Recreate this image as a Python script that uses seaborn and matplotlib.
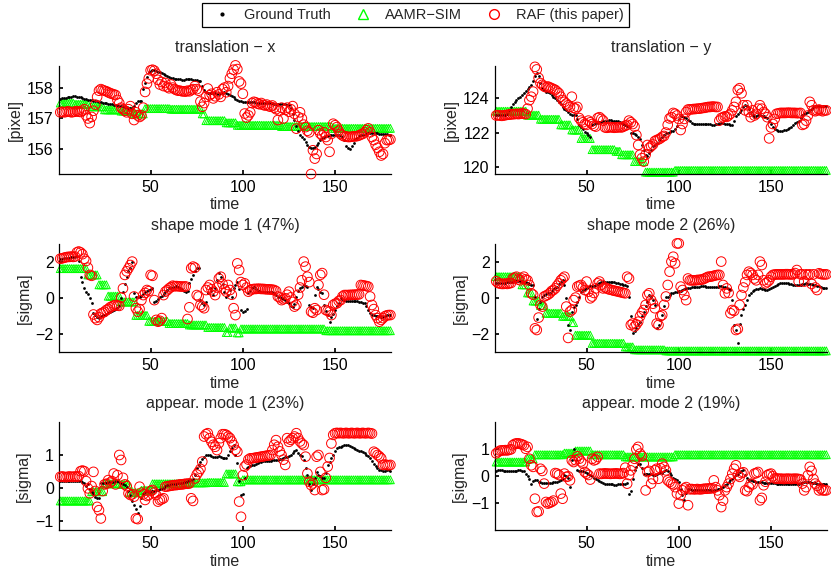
import numpy as np
import matplotlib
matplotlib.use("Agg")
import matplotlib.pyplot as plt
import seaborn as sns
from matplotlib.lines import Line2D

# ---------------- translation - x ----------------
gt_tx = [157.64, 157.65, 157.66, 157.67, 157.68,
         157.70, 157.71, 157.72, 157.72, 157.71, 157.70, 157.68,
         157.66, 157.64, 157.62, 157.61, 157.60, 157.59,
         157.58, 157.56, 157.55, 157.54,
         157.52, 157.51, 157.50, 157.49, 157.48, 157.47, 157.46, 157.45,
         157.44, 157.43, 157.42, 157.41, 157.40, 157.38, 157.36, 157.35, 157.34, 157.33,
         157.40, 157.50, 157.55, 157.56, 157.55,
         157.95, 158.15, 158.35, 158.50, 158.55, 158.57, 158.56,
         158.54, 158.52, 158.50, 158.47, 158.45, 158.42,
         158.38, 158.35, 158.32, 158.30, 158.28,
         158.28, 158.27, 158.27, 158.26, 158.26, 158.27, 158.28, 158.28, 158.27, 158.26, 158.25, 158.24, 158.23,
         158.20, 158.05, 157.92, 157.85,
         157.84, 157.83, 157.82, 157.82, 157.81, 157.80, 157.80, 157.82, 157.84, 157.86,
         157.83, 157.80, 157.76, 157.72, 157.68, 157.64, 157.60, 157.57, 157.55, 157.54,
         157.54, 157.53, 157.53, 157.52, 157.52, 157.52, 157.51, 157.51, 157.51, 157.50, 157.50, 157.50, 157.50,
         157.49, 157.49, 157.49, 157.48, 157.48, 157.48, 157.47, 157.47, 157.46, 157.46, 157.45, 157.44,
         157.35, 157.15, 156.95, 156.75, 156.60, 156.48,
         156.40, 156.35, 156.24, 156.15, 156.06, 156.04, 156.03,
         156.08, 156.15, 156.22, 156.30, 156.36, 156.40, 156.42,
         156.44, 156.46, 156.48, 156.48, 156.47, 156.46, 156.45, 156.44, 156.40, 156.30,
         156.12, 156.04, 156.02, 156.10,
         156.22, 156.32, 156.38, 156.42, 156.45,
         156.48, 156.50, 156.51, 156.52, 156.52, 156.53, 156.53, 156.52, 156.52, 156.51, 156.50, 156.50,
         156.49, 156.49, 156.48, 156.48]
aamr_tx = ([157.50] * 8 + [157.46] * 8 + [157.38] * 8 + [157.28] * 9 + [157.24] * 7 + [157.15] * 6
           + [157.32] * 14 + [157.30] * 17 + [157.15] * 2 + [156.93] * 11 + [156.86] * 6
           + [156.78] * 24 + [156.74] * 28 + [156.68] * 32)
raf_tx = [157.20, 157.22, 157.20, 157.21, 157.23, 157.22, 157.20, 157.21, 157.22, 157.24, 157.22, 157.21, 157.25,
          157.30, 157.10, 157.00, 156.85, 157.05, 157.25, 157.45, 157.70, 157.90, 157.95,
          157.92, 157.90, 157.88, 157.85, 157.82, 157.80, 157.78, 157.76, 157.60,
          157.50, 157.35, 157.30, 157.25, 157.20, 157.30, 157.40, 157.15, 156.95, 157.20, 157.10, 157.05, 157.10, 157.35,
          157.86, 158.13, 158.30, 158.56, 158.58, 158.55, 158.45,
          158.25, 158.10, 158.18, 158.05, 158.15, 158.02, 157.98, 158.10, 158.00,
          157.95, 157.92, 157.90, 157.90, 157.88, 157.88, 157.87, 157.90, 157.88, 157.92, 157.95, 158.05, 157.95, 157.90,
          157.55, 157.38, 157.50,
          157.70, 157.97, 157.75, 157.80, 157.65, 157.72,
          157.85, 157.78, 157.70, 157.95, 158.00, 157.85, 158.05,
          158.30, 158.45, 158.58, 158.72, 158.60, 158.20, 158.13,
          157.80, 157.16, 157.03, 157.10, 157.20,
          157.50, 157.54, 157.52, 157.48, 157.46, 157.50, 157.44, 157.42, 157.45, 157.40, 157.38, 157.42, 157.35,
          157.30, 156.95, 157.25, 157.35, 157.00, 157.28, 157.35, 157.22, 157.30,
          157.40, 157.15, 156.67, 157.05, 157.20, 157.00, 156.80, 156.72, 156.60, 156.55,
          155.20, 155.97, 155.70, 155.85,
          156.62, 156.51, 156.45, 156.55, 156.40, 156.30, 155.92, 156.50,
          156.83, 156.78, 156.72, 156.60, 156.50,
          156.45, 156.42, 156.42, 156.40, 156.40, 156.41, 156.42, 156.42, 156.43, 156.45, 156.48, 156.50, 156.55,
          156.62, 156.68, 156.55, 156.40,
          156.30, 156.15, 156.05, 155.92, 155.80, 155.85, 156.20, 156.30, 156.30, 156.32]

# ---------------- translation - y ----------------
gt_ty = [123.00, 123.00, 123.02, 123.02, 123.03, 123.05,
         123.10, 123.30, 123.50, 123.65, 123.80, 123.90, 124.00, 124.10, 124.20, 124.30, 124.45, 124.55, 124.65,
         124.80, 125.00, 125.30, 125.50, 125.30, 124.90,
         124.60, 124.50, 124.40, 124.35, 124.30,
         124.20, 124.10, 124.00, 123.90, 123.80, 123.65, 123.50, 123.40, 123.30, 123.20, 123.10,
         123.05, 123.00, 123.00, 122.80,
         122.45, 122.30, 122.20, 122.05, 121.95, 121.85, 121.75,
         122.45, 122.50, 122.55, 122.55, 122.60, 122.60, 122.65,
         122.70, 122.70, 122.72, 122.72, 122.70, 122.70, 122.68, 122.66, 122.62, 122.58, 122.52,
         122.45, 122.40, 122.30,
         122.00, 121.95, 121.90, 121.85, 121.75, 121.60,
         121.27, 121.00, 120.70, 120.65, 120.80,
         121.00, 121.20, 121.27, 121.40, 121.56, 121.65, 121.75, 121.85, 121.95, 122.00, 122.05, 122.08, 122.10, 122.20,
         122.40, 122.80, 122.95, 122.95, 122.90, 122.85, 122.75, 122.65,
         122.55, 122.52, 122.50, 122.48, 122.48, 122.50, 122.50, 122.52, 122.52, 122.50, 122.48, 122.47, 122.47,
         122.48, 122.50, 122.52, 122.55, 122.55, 122.53, 122.50, 122.48, 122.45,
         122.45, 122.70, 122.95, 123.10, 123.20, 123.35, 123.50, 123.60, 123.55, 123.40, 123.20, 123.05,
         122.90, 122.95, 123.00, 123.00, 122.98, 122.95, 122.90, 122.85,
         122.65, 122.50, 122.35, 122.20,
         122.15, 122.12, 122.12, 122.12, 122.14, 122.16, 122.20,
         122.28, 122.35, 122.45, 122.55, 122.62, 122.70, 122.85,
         123.00, 123.10, 123.15, 123.20, 123.30, 123.40,
         123.50, 123.55, 123.58, 123.58, 123.56, 123.55, 123.55, 123.54]
aamr_ty = ([123.25] * 17 + [123.02] * 7 + [122.78] * 11 + [122.45] * 6 + [122.15] * 5 + [121.65] * 6
           + [121.00] * 13 + [120.90] * 3 + [120.70] * 7 + [120.30] * 6 + [119.68] * 16 + [119.78] * 83)
raf_ty = [123.00, 123.02, 123.00, 122.98, 123.00, 123.02, 123.04, 123.05, 123.06, 123.08, 123.08, 123.10,
          123.08, 123.10, 123.12, 123.10, 123.08,
          123.40, 123.90, 124.10, 124.40,
          125.85, 125.70, 125.20,
          124.90, 124.80, 124.70, 124.65,
          124.70, 124.65, 124.60, 124.55, 124.50, 124.40,
          124.30, 124.10, 123.90,
          123.80, 123.70, 123.60, 123.50, 124.10, 123.45, 123.40, 123.50,
          122.85, 122.70, 122.60, 122.50, 122.45,
          122.70, 122.60, 122.50, 122.40, 122.35,
          122.85, 122.90, 122.80, 122.70,
          122.30, 122.28, 122.30, 122.32, 122.30, 122.28, 122.30, 122.30, 122.32, 122.30, 122.35, 122.40, 122.45,
          122.70, 122.60, 122.50, 122.35, 121.85,
          121.27, 120.70, 120.50, 120.30, 120.70,
          121.27, 121.10, 121.20, 121.30, 121.50, 121.56, 121.60, 121.66, 121.75, 121.80, 122.00,
          122.45, 122.83, 122.90, 123.15, 123.10, 123.00, 122.80,
          122.15, 122.50, 122.80, 123.20,
          123.35, 123.36, 123.36, 123.38, 123.38, 123.40, 123.40, 123.42, 123.44, 123.45, 123.48, 123.50,
          123.50, 123.52, 123.52, 123.50, 123.50,
          122.70, 122.85, 122.90, 122.95, 122.92, 123.00, 123.10, 123.30, 123.50, 123.80,
          124.50, 124.60, 124.30, 123.60,
          123.30, 123.60, 123.20, 122.90, 123.30, 123.00, 123.10, 123.40,
          123.60, 123.40, 123.20, 123.10, 122.90,
          121.66, 122.30, 122.50, 122.80,
          123.10, 123.12, 123.15, 123.15, 123.15, 123.15, 123.16, 123.16, 123.15, 123.15, 123.15, 123.14, 123.14, 123.15,
          122.45, 122.50, 122.70, 123.00, 123.80, 123.60,
          123.30, 123.25, 123.30, 123.35, 123.30, 123.25, 123.30, 123.30]

# ---------------- shape mode 1 ----------------
gt_s1 = [2.20, 2.20, 2.22, 2.22, 2.24, 2.25, 2.28, 2.30, 2.32, 2.35, 2.10,
         1.20, 0.90, 0.55, 0.35, 0.25, 0.00, -0.28,
         -0.80, -0.95, -1.05, -1.10,
         -1.00, -0.95, -0.90, -0.85, -0.80, -0.75, -0.70, -0.65, -0.60, -0.55, -0.45,
         0.00, 0.37, 0.80, 1.20, 1.50, 1.67, 2.00,
         0.30, 0.10, 0.05, 0.10, 0.15, 0.25,
         0.35, 0.40, 0.45, 0.50, 0.55,
         -0.20, -0.15, -0.05, 0.05, 0.15, 0.25, 0.35, 0.45, 0.55, 0.60, 0.65,
         0.65, 0.66, 0.65, 0.60, 0.50, 0.40, 0.37, 0.40,
         0.83, 1.05, 1.30, 1.50, 1.67, 1.70,
         -0.10, -0.28, -0.35, -0.20,
         0.30, 0.60, 0.40, 0.20, 0.60, 1.00, 1.39, 1.20, 0.80, 0.37, 0.10, 0.20,
         0.46, 0.10, 0.55, 0.74, 0.90, 0.50, -0.65, -0.74,
         -0.72, -0.60, 0.28, 0.40, 0.55, 0.65, 0.50,
         0.40, 0.38, 0.37, 0.37, 0.37, 0.37, 0.36, 0.35, 0.33, 0.30, 0.20, 0.10,
         0.05, 0.00, -0.05, -0.10, -0.20, -0.28, -0.40, -0.50, -0.30, 0.10, 0.40, 0.60,
         0.65, 0.74, 0.70, 0.65, -0.37, -0.50, -0.55, 0.20, 0.65,
         0.50, 0.37, 0.30, -0.37, -0.70, -0.93, -1.30, -1.05, -0.85, -0.65,
         -0.45, -0.28, 0.00, -0.05, -0.10, -0.15, -0.15, -0.15, -0.15, -0.15, -0.15, -0.15, -0.18, -0.20, -0.25,
         -0.28, -0.45, -0.65, -0.83, -0.90, -0.95, -0.98, -1.00, -1.00, -1.02, -1.05, -1.00, -0.95, -0.93, -0.92]
aamr_s1 = ([1.65] * 15 + [1.30] * 6 + [0.75] * 5 + [0.12] * 7 + [-0.20] * 8 + [-0.95] * 7 + [-1.28] * 11
           + [-1.40] * 11 + [-1.48] * 10 + [-1.62] * 10 + [-1.90] * 2 + [-1.65] * 4 + [-1.92] * 2
           + [-1.70] * 46 + [-1.80] * 36)
raf_s1 = [2.20, 2.22, 2.25, 2.28, 2.30, 2.30, 2.32, 2.30, 2.32,
          2.55, 2.60, 2.55, 2.45,
          2.20, 2.07, 1.70, 1.30, 1.25,
          -0.90, -1.10, -1.20, -1.05,
          -0.85, -0.80, -0.75, -0.65, -0.60, -0.50, -0.45, -0.40, -0.37,
          -0.40, -0.42, 0.04, 0.55, 1.30, 1.50, 1.67, 1.85, 2.04,
          0.10, -0.55, -0.74, -0.60,
          -0.10, 0.18, 0.30, 0.46, 0.40,
          1.30, 1.25,
          -0.10, -1.20, -1.30, -1.25, -1.10,
          0.18, 0.37, 0.45, 0.55, 0.62, 0.70,
          0.67, 0.68, 0.67, 0.66, 0.65, 0.65, 0.66,
          -1.15,
          -0.50, 1.67, 1.76, 1.70, 0.18, 0.10,
          -0.37, -0.46, -0.55, 0.46,
          0.60, 0.74, 0.50, 0.37, 0.18, 0.60, 1.10, 1.20, 0.80, 0.50, 0.37, 0.74, 0.46, 0.20, -0.55, -0.93,
          1.94, 1.57, 0.90, 0.74, 0.83, 0.60, 0.37, 0.45,
          0.50, 0.52, 0.52, 0.53, 0.53, 0.52, 0.52, 0.51, 0.50, 0.50, 0.49, 0.48, 0.46, 0.40,
          0.10, 0.05, -0.10, -0.05, 0.00, 0.20, 0.37, 0.05, -0.20, -0.46, -0.37, 0.20, 0.60, 1.00, 2.04, 1.76,
          1.20, 0.90, -0.74, -0.80, -0.55, -0.65, 0.74, 1.30, 1.40, 0.20, -0.65, -0.70, -0.74, -0.93,
          -0.37, -0.30, -0.28, -0.15, -0.10, 0.10,
          0.18, 0.18, 0.18, 0.19, 0.19, 0.20, 0.20, 0.21, 0.22,
          0.74, 0.72, 0.70, 0.68, 0.65, 0.10, -0.37, -0.60, -0.93, -1.10, -1.30, -1.20, -1.10, -1.00,
          -0.95, -0.93, -0.93]

# ---------------- shape mode 2 ----------------
gt_s2 = [0.85, 0.85, 0.86, 0.86, 0.87, 0.87, 0.88, 0.88, 0.90, 0.92, 0.94, 0.95, 0.96, 0.96, 0.95, 0.93,
         0.90, 0.85, 0.80, 0.76, 0.74,
         0.10, -1.15, -0.60,
         -0.18, 0.05, 0.18, 0.25, 0.28, 0.32,
         0.40, 0.50, 0.58, 0.65, 0.78, 0.90, 1.00, 0.74,
         0.00, -1.48, -1.76, -0.74, -0.50,
         -0.37, -0.20, 0.10, 0.37, 0.45, 0.52, 0.58, 0.65,
         0.66, 0.68, 0.70, 0.74, 0.78, 0.83, 0.88, 0.93, 0.93, 0.93, 0.93, 0.92, 0.90, 0.88, 0.85, 0.83,
         0.80, 0.78, 0.74, 0.72, 0.70,
         0.10, -1.00, -1.94, -1.80, -1.67, -1.45, -1.30, -1.00,
         -0.74, -0.45, -0.18, 0.18, 0.10, -0.10, -0.37,
         -1.63, -1.48, -1.20, -0.93, -0.40, 0.10,
         0.10, 0.20, 0.28, 0.32, 0.35, 0.37, 0.40, 0.42, 0.46, 0.50, 0.55,
         0.58, 0.60, 0.62, 0.63, 0.64, 0.65, 0.65, 0.66, 0.66, 0.66, 0.65, 0.65, 0.64, 0.64, 0.64, 0.65,
         0.65, 0.66, 0.66, 0.65, 0.64, 0.60, 0.50,
         0.46, -0.10, -1.48, -1.76, -2.50, -1.40, -0.93, -0.60, -0.37, -0.10,
         0.18, 0.28, 0.38, 0.46, 0.50, 0.53, 0.55, 0.54, 0.50, 0.46, 0.46, 0.50, 0.58,
         0.65, 0.70, 0.74, 0.78, 0.83, 0.84, 0.84, 0.84, 0.83, 0.82, 0.80, 0.76, 0.74, 0.74, 0.75,
         0.76, 0.78, 0.80, 0.83, 0.82, 0.80, 0.78, 0.76, 0.74, 0.70, 0.66, 0.65, 0.60, 0.57, 0.55]
aamr_s2 = ([1.20] * 14 + [0.75] * 3 + [0.30] * 3 + [-0.15] * 4 + [-0.40] * 3 + [-0.83] * 9 + [-1.00] * 5
           + [-1.35] * 2 + [-2.05] * 9 + [-2.50] * 18 + [-2.70] * 5 + [-2.86] * 17 + [-2.92] * 88)
raf_s2 = [0.95, 0.85, 0.82, 0.80, 0.80, 0.82, 0.80, 0.83, 0.85,
          1.10, 1.15, 1.20, 1.05, 1.00, 1.10, 1.20, 1.05,
          1.00, 0.74, 0.28, 0.20,
          -1.67, -1.76, -1.07,
          -0.37, -0.46, 0.10, 0.15, 0.20, 0.28,
          0.40, 0.46, 0.55, 0.70, 0.83, 1.00, 1.10, 1.20,
          -0.46, -2.20, -0.74, -0.65, -0.10, 0.04,
          0.65, 0.70, 0.74, 0.60, 0.46, 0.93,
          0.37, 0.00, 0.10, 0.30, 0.55, 0.83, 0.93, 0.75,
          0.55, 0.60, 0.55, 0.50, 0.48, 0.45, 0.42, 0.40, 0.38, 0.35, 0.33, 0.30, 0.28,
          1.20, 1.10,
          -1.48, -1.40, -1.57, -1.45,
          -1.30, -1.00, -0.80, -0.65, -0.37, 0.18, 0.28,
          -0.10, -0.30, -0.55, -1.40, -1.48, -1.00, -0.93,
          -0.37, 0.10, 0.74, 1.48, 2.04, 2.31, 1.94, 3.05, 3.05,
          0.65, 0.46, 0.18, -0.10, 1.10,
          1.00, 1.00, 1.00, 1.00, 1.02, 1.02, 1.04, 1.05, 1.10, 1.15, 1.20, 1.20, 1.22, 1.25, 1.28, 1.30, 1.30,
          2.04, 0.74, 0.28, 0.55, 0.30, -0.83, -0.65, -0.70, -1.76, -1.70, -0.37, 0.18, 0.60, 0.90,
          1.30, 1.48, 1.40, 1.30, 1.10, 1.00, 1.30, 2.04, 1.85, 1.00, 0.83, 0.90, 1.00, 1.20,
          1.30, 1.32, 1.33, 1.33, 1.33, 1.33, 1.33, 1.34, 1.34, 1.33, 1.33, 1.33, 1.40, 1.57, 0.93,
          1.33, 1.33, 0.93, 1.33, 1.30, 1.33, 0.80, 1.33, 0.60, 0.46, 1.39, 1.35, 1.33, 1.33, 1.33]

# ---------------- appear. mode 1 ----------------
gt_a1 = [0.20, 0.20, 0.21, 0.20, 0.20, 0.21, 0.20, 0.20, 0.20, 0.21, 0.20, 0.19, 0.18, 0.15,
         0.05, 0.10, -0.05,
         -0.12, -0.20, -0.27, -0.30, -0.32,
         0.13, 0.14, 0.15, 0.15, 0.16, 0.16, 0.17, 0.18,
         0.20, 0.20, 0.18, 0.15, 0.12, 0.08, 0.03,
         -0.10, -0.22, -0.40, -0.52, -0.65, -0.78, -0.55,
         -0.32, -0.20, -0.12, -0.10, -0.14, -0.12, -0.10, -0.09, -0.08,
         -0.07, -0.05, -0.03, 0.00,
         0.05, 0.07, 0.08, 0.10, 0.10, 0.11, 0.12, 0.13, 0.14, 0.15, 0.16, 0.18, 0.20, 0.22, 0.23, 0.25,
         0.40, 0.59, 0.70, 0.79, 0.88, 0.94,
         0.99, 1.00, 0.98, 0.95, 0.94, 0.92, 0.94, 0.96, 0.93, 0.90, 0.89, 0.89,
         1.00, 1.10, 1.20, 1.29, 1.00, 0.74, 0.20, -0.22,
         -0.20, 0.30, 0.59, 0.62, 0.65, 0.68, 0.70, 0.72, 0.74,
         0.78, 0.79, 0.80, 0.80, 0.81, 0.82, 0.82, 0.83, 0.84, 0.84, 0.85, 0.86, 0.88, 0.90, 0.92,
         0.94, 0.96, 0.99, 1.05, 1.10, 1.14, 1.04, 1.00, 0.95, 0.84,
         0.60, 0.38, 0.10, -0.07, 0.10, 0.30,
         0.48, 0.40, 0.35, 0.30, 0.28, 0.45, 0.69,
         0.79, 0.89, 1.00, 1.10, 1.19, 1.22, 1.24, 1.26, 1.28, 1.29, 1.28, 1.25, 1.22,
         1.19, 1.16, 1.14, 1.12, 1.10, 1.08, 1.04, 1.00, 0.95,
         0.89, 0.80, 0.72, 0.65, 0.59, 0.55, 0.53, 0.52, 0.52, 0.53, 0.53, 0.52]
aamr_a1 = ([-0.40] * 17 + [-0.12] * 7 + [0.12] * 9 + [0.10] * 5 + [-0.15] * 6 + [-0.08] * 6 + [0.12] * 20
           + [0.15] * 10 + [0.16] * 10 + [0.42] * 6 + [0.18] * 3 + [0.24] * 81)
raf_a1 = [0.33, 0.34, 0.33, 0.32, 0.33, 0.34, 0.33, 0.33, 0.34, 0.33, 0.35,
          0.50, 0.52, 0.50,
          0.20, -0.02, -0.17, 0.05,
          0.48, -0.10,
          -0.58, -0.68, -0.93, -0.10,
          0.10, 0.12, 0.23, 0.15, 0.20, 0.43, 0.10,
          0.38, 0.99, 0.84, 0.30, 0.10,
          0.05, -0.17, -0.22, -0.20, -0.27,
          -0.93, -0.95, 0.03,
          -0.15, -0.20, -0.37, -0.25,
          -0.22, -0.10, -0.07, -0.15, -0.22,
          -0.42, -0.37, -0.35, -0.32,
          0.03, 0.04, 0.05, 0.06, 0.07, 0.08, 0.08, 0.09, 0.10, 0.10, 0.11, 0.12, 0.12, 0.13,
          -0.32, -0.40,
          0.28, 0.40, 0.48, 0.57, 0.79,
          1.55, 1.62, 1.65, 1.50, 1.39, 1.30,
          1.24, 1.14, 1.35, 1.50, 1.62, 1.62, 1.60, 1.55, 1.50, 1.40, 1.29, 1.15, 1.09,
          -0.42, -0.88, 0.38,
          0.64, 0.70, 0.85, 0.89, 0.89, 0.90, 0.91, 0.92, 0.93, 0.94, 0.95, 0.96, 0.97, 0.98, 0.99,
          1.14, 1.30, 1.44, 1.24, 1.10, 0.99, 0.85, 0.69,
          1.50, 1.39, 1.45, 1.50, 1.55, 1.65, 1.50, 1.40, 1.34, 1.29,
          0.94, 0.43, 0.18, 0.08, 0.13, -0.07,
          0.94, 0.99, 0.48, -0.07, -0.05, 0.30, 0.64, 0.90,
          1.34, 1.60,
          1.65, 1.66, 1.65, 1.66, 1.65, 1.65, 1.66, 1.65, 1.65, 1.66, 1.65, 1.65, 1.66, 1.65, 1.65,
          1.66, 1.65, 1.65, 1.66, 1.65, 1.64,
          1.09, 1.05, 0.99, 0.95, 0.89, 0.69, 0.70, 0.69, 0.68, 0.69]

# ---------------- appear. mode 2 ----------------
gt_a2 = [0.20, 0.22, 0.24, 0.22, 0.20, 0.20, 0.20, 0.19, 0.20, 0.20, 0.21, 0.20, 0.22, 0.22, 0.20, 0.20,
         0.10, 0.00, -0.09, -0.27, -0.17,
         -0.12, -0.15, -0.20, -0.21,
         -0.24, -0.26, -0.26, -0.25, -0.24, -0.23, -0.22, -0.21, -0.20, -0.18, -0.12, -0.09,
         0.04, 0.02, -0.05, -0.40,
         0.60, 1.02, 0.60,
         0.22, 0.21, 0.20, 0.18, 0.15, 0.12, 0.10, 0.05,
         0.00, -0.05, -0.10, -0.14, -0.17,
         -0.22, -0.25, -0.27, -0.28, -0.29, -0.30, -0.30, -0.31, -0.31, -0.30, -0.30, -0.29, -0.28, -0.27, -0.25,
         -0.64, -0.55, -0.10,
         0.22, 0.35, 0.47, 0.45, 0.30,
         0.10, 0.10, 0.10, 0.10, 0.08, 0.06, 0.05, 0.08, 0.12, 0.16, 0.14, 0.18, 0.22, 0.20, 0.12, 0.04, -0.05,
         -0.09, -0.12, -0.20, -0.46, -0.70, -0.89, -0.60, -0.46,
         -0.48, -0.49, -0.50, -0.50, -0.50, -0.51, -0.51, -0.52, -0.52, -0.52, -0.52, -0.52, -0.53, -0.52,
         -0.50, -0.48, -0.46, -0.42, -0.38, -0.33, -0.27, -0.21, -0.15,
         -0.09, -0.02, 0.05, 0.10, 0.16, 0.20, 0.22, 0.04,
         -0.05, -0.12, -0.15, -0.17, -0.19,
         -0.20, -0.21, -0.21, -0.22, -0.23, -0.24, -0.24, -0.25, -0.25, -0.25, -0.26, -0.27, -0.28,
         -0.28, -0.29, -0.30, -0.30, -0.30, -0.30, -0.30, -0.30, -0.29, -0.28, -0.27, -0.26,
         -0.24, -0.22, -0.21, -0.21, -0.22, -0.24, -0.25, -0.26, -0.27, -0.27, -0.27, -0.28, -0.28, -0.27]
aamr_a2 = [0.53] * 17 + [0.65] * 4 + [0.80] * 16 + [0.86] * 6 + [0.94] * 9 + [0.80] * 18 + [0.72] * 27 + [0.80] * 83
raf_a2 = [0.85, 0.90, 0.95, 0.96, 0.96, 0.97, 0.96, 0.98, 1.00,
          1.15, 1.20, 1.22, 1.22, 1.20, 1.18, 1.15, 1.02,
          1.09, 0.65, 0.41, 0.35,
          -0.83, -1.32, -1.30,
          0.28, 0.20, -0.27, -0.95,
          -1.01, -0.98, -0.95, -0.90,
          0.12, 0.10, 0.05, -0.64, -0.83,
          0.10, -0.02, 0.00, -0.15,
          0.59, 0.53, 0.60, 0.74,
          0.65, 0.55, 0.47,
          0.16, 0.10, 0.05, -0.12,
          0.65, 0.59, 0.62, 0.72,
          0.10, 0.09, 0.10, 0.11, 0.10, 0.10, 0.09, 0.10, 0.10, 0.11, 0.10, 0.09, 0.10, 0.12,
          0.32, -0.27, 0.05,
          0.22, 0.40, 0.65, 1.00,
          1.09, 0.84, 0.75, 0.47,
          -0.52, 0.16, 0.20, -0.27, -0.10,
          0.22, 0.28, -0.09, 0.30, 0.47, 0.35, 0.22, -0.15, -0.21, -0.27, -0.30,
          -0.40, -0.64, -1.01, -0.70, -0.52, -0.45, -0.40, -1.07,
          -0.48, -0.47, -0.48, -0.48, -0.47, -0.48, -0.48, -0.47, -0.46, -0.46, -0.45, -0.45, -0.44,
          -0.15, -0.40, -0.52, -0.70, -1.14, -0.90,
          -0.52, -0.40, -0.27, -0.10, 0.10, 0.28,
          0.41, 0.04, -0.02, 0.12, 0.15,
          -0.52, -0.55, -0.40, -0.27, -0.30, 0.10,
          0.12, 0.16, -0.89, -0.80, -0.33,
          -0.20, 0.04, 0.08, 0.10, 0.00,
          -0.08, -0.08, -0.09, -0.09, -0.09, -0.10, -0.09, -0.09, -0.09, -0.10, -0.09, -0.09, -0.09, -0.10, -0.12,
          -0.27, -0.52, -0.40, 0.04, 0.35, 0.20, -0.10,
          -0.27, -0.35, -0.52, -0.45, -0.52, -0.52, -0.52]

titles = ["translation \u2212 x", "translation \u2212 y",
          "shape mode 1 (47%)", "shape mode 2 (26%)",
          "appear. mode 1 (23%)", "appear. mode 2 (19%)"]
ylabels = ["[pixel]", "[pixel]", "[sigma]", "[sigma]", "[sigma]", "[sigma]"]
yticks = [[156, 157, 158], [120, 122, 124], [-2, 0, 2], [-2, 0, 2], [-1, 0, 1], [-1, 0, 1]]
xticks = [50, 100, 150]
legend_labels = ["Ground Truth", "AAMR\u2212SIM", "RAF (this paper)"]

series = [(gt_tx, aamr_tx, raf_tx), (gt_ty, aamr_ty, raf_ty),
          (gt_s1, aamr_s1, raf_s1), (gt_s2, aamr_s2, raf_s2),
          (gt_a1, aamr_a1, raf_a1), (gt_a2, aamr_a2, raf_a2)]
ylims = [(155.2, 158.7), (119.57, 125.9), (-3, 3), (-3, 3), (-1.29, 1.98), (-2, 2)]

sns.set_theme(style="ticks")
plt.rcParams['font.family'] = ['Liberation Sans', 'DejaVu Sans']
plt.rcParams.update({
    'font.size': 11,
    'axes.linewidth': 0.9,
    'xtick.direction': 'in', 'ytick.direction': 'in',
    'xtick.major.size': 3, 'ytick.major.size': 3,
    'xtick.labelsize': 11.5, 'ytick.labelsize': 11.5,
})

fig = plt.figure(figsize=(8.31, 5.70), dpi=100)
lefts = [0.0714, 0.596]
bottoms = [0.6947, 0.3819, 0.0696]
W, H = 0.3995, 0.1895

GREEN = "#00ff00"
RED = "#ff0000"

for i, (gt, aamr, raf) in enumerate(series):
    r, c = divmod(i, 2)
    ax = fig.add_axes([lefts[c], bottoms[r], W, H])
    sns.scatterplot(x=np.arange(1, len(gt) + 1), y=gt, ax=ax, color="black", s=4,
                    linewidth=0, legend=False, clip_on=False, zorder=3)
    sns.scatterplot(x=np.arange(1, len(aamr) + 1), y=aamr, ax=ax, marker="^", s=32,
                    facecolor="none", edgecolor=GREEN, linewidth=0.7, legend=False,
                    clip_on=False, zorder=2)
    sns.scatterplot(x=np.arange(1, len(raf) + 1), y=raf, ax=ax, marker="o", s=48,
                    facecolor="none", edgecolor=RED, linewidth=0.7, legend=False,
                    clip_on=False, zorder=4)
    ax.set_xlim(0.5, 180.5)
    ax.set_ylim(*ylims[i])
    ax.set_xticks(xticks)
    ax.set_yticks(yticks[i])
    ax.set_xlabel("time", fontsize=11.5, labelpad=2)
    ax.set_ylabel(ylabels[i], fontsize=11.5, labelpad=3)
    ax.set_title(titles[i], fontsize=11.5, pad=10)
    sns.despine(ax=ax)
    ax.tick_params(colors="black", pad=4)
    for sp in ax.spines.values():
        sp.set_color("black")

handles = [Line2D([], [], marker=".", color="black", linestyle="none", markersize=4),
           Line2D([], [], marker="^", markerfacecolor="none", markeredgecolor=GREEN,
                  linestyle="none", markersize=7),
           Line2D([], [], marker="o", markerfacecolor="none", markeredgecolor=RED,
                  linestyle="none", markersize=7)]
leg = fig.legend(handles, legend_labels, loc="center", bbox_to_anchor=(0.5, 0.973), ncol=3,
                 frameon=True, fancybox=False, edgecolor="black", framealpha=1,
                 fontsize=10.5, handlelength=2.0, handletextpad=0.5, columnspacing=1.2,
                 borderpad=0.35)
leg.get_frame().set_linewidth(0.9)

fig.savefig("out.png", dpi=100)
